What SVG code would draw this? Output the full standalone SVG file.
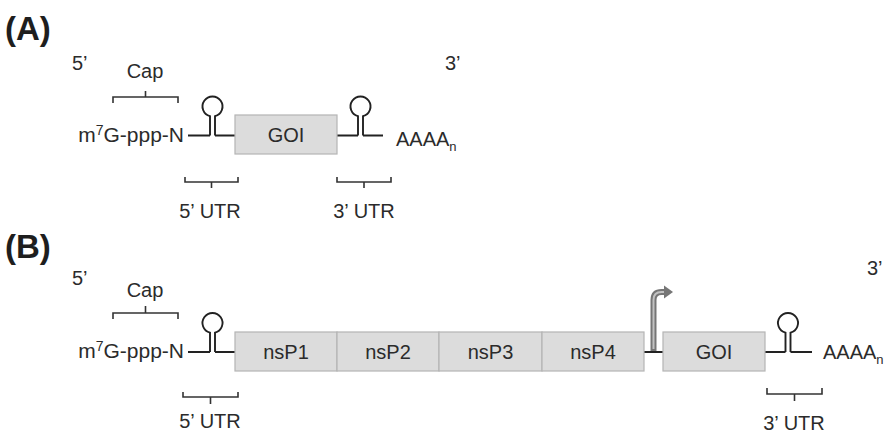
<svg xmlns="http://www.w3.org/2000/svg" xmlns:xlink="http://www.w3.org/1999/xlink" width="889" height="434" viewBox="0 0 889 434">
  <style>
    text { font-family: "Liberation Sans", Arial, sans-serif; font-size: 20px; fill: #2b2b2b; }
    .panel { font-size: 33px; font-weight: bold; fill: #1e1e1e; }
    .mid { text-anchor: middle; }
    .end { text-anchor: end; }
    .cap5 { font-size: 21px; }
    .sup { font-size: 14px; }
    .sub { font-size: 13px; }
    .rna { fill: none; stroke: #222; stroke-width: 1.9; }
    .brace { fill: none; stroke: #333; stroke-width: 1.6; }
    .box { fill: #dcdcdc; stroke: #b4b4b4; stroke-width: 1.2; }
  </style>
  <defs>
    <!-- stem-loop: left stem foot at (0,0), right stem foot at (5,0) -->
    <path id="hairpin" class="rna" d="M0 0 V-19.3 A10 10 0 1 1 5 -19.3 V0"/>
  </defs>

  <rect width="889" height="434" fill="#ffffff"/>

  <!-- ===== Panel A: conventional mRNA ===== -->
  <g id="panelA-labels">
    <text class="panel" x="5" y="40">(A)</text>
    <text x="72" y="70">5’</text>
    <text x="445" y="70">3’</text>
  </g>

  <g id="a-cap">
    <text class="mid" x="145" y="78">Cap</text>
    <path class="brace" d="M113 103 V97 H178 V103 M145.5 97 V91"/>
    <text class="end cap5" x="184" y="142">m<tspan class="sup" dy="-7">7</tspan><tspan dy="7">G-ppp-N</tspan></text>
  </g>

  <g id="a-connectors">
    <path class="rna" d="M188 135.5 H210 M215 135.5 H235 M337 135.5 H358 M363 135.5 H383"/>
  </g>

  <g id="a-utr5-loop"><use xlink:href="#hairpin" x="210" y="135.5"/></g>
  <g id="a-utr3-loop"><use xlink:href="#hairpin" x="358" y="135.5"/></g>

  <g id="a-goi">
    <rect class="box" x="235" y="115" width="102" height="39"/>
    <text class="mid" x="286" y="142">GOI</text>
  </g>

  <g id="a-polyA">
    <text x="396" y="146">AAAA<tspan class="sub" dy="5">n</tspan></text>
  </g>

  <g id="a-utr5">
    <path class="brace" d="M185 177 V182 H238 V177 M211.5 182 V188"/>
    <text class="mid" x="210" y="218">5’ UTR</text>
  </g>
  <g id="a-utr3">
    <path class="brace" d="M337 177 V182 H391 V177 M364 182 V188"/>
    <text class="mid" x="364" y="218">3’ UTR</text>
  </g>

  <!-- ===== Panel B: self-amplifying mRNA ===== -->
  <g id="panelB-labels">
    <text class="panel" x="5" y="258">(B)</text>
    <text x="72" y="285">5’</text>
    <text x="867" y="275">3’</text>
  </g>

  <g id="b-cap">
    <text class="mid" x="145" y="297">Cap</text>
    <path class="brace" d="M113 319 V313 H178 V319 M145.5 313 V306"/>
    <text class="end cap5" x="184" y="358">m<tspan class="sup" dy="-7">7</tspan><tspan dy="7">G-ppp-N</tspan></text>
  </g>

  <g id="b-connectors">
    <path class="rna" d="M188 352 H210 M215 352 H235 M644 352 H663 M765 352 H785.5 M790.5 352 H812"/>
  </g>

  <g id="b-utr5-loop"><use xlink:href="#hairpin" x="210" y="352"/></g>
  <g id="b-utr3-loop"><use xlink:href="#hairpin" x="785.5" y="352"/></g>

  <g id="b-nsP1">
    <rect class="box" x="235" y="332" width="102" height="39"/>
    <text class="mid" x="286" y="359">nsP1</text>
  </g>
  <g id="b-nsP2">
    <rect class="box" x="337" y="332" width="102" height="39"/>
    <text class="mid" x="388" y="359">nsP2</text>
  </g>
  <g id="b-nsP3">
    <rect class="box" x="439" y="332" width="103" height="39"/>
    <text class="mid" x="490.5" y="359">nsP3</text>
  </g>
  <g id="b-nsP4">
    <rect class="box" x="542" y="332" width="102" height="39"/>
    <text class="mid" x="593" y="359">nsP4</text>
  </g>

  <!-- subgenomic promoter: hollow grey bent arrow -->
  <g id="b-promoter">
    <path d="M653.5 351 V300 Q653.5 292 661.5 292 H665" fill="none" stroke="#767676" stroke-width="6"/>
    <path d="M653.5 349 V300 Q653.5 292 661.5 292 H666" fill="none" stroke="#c2c2c2" stroke-width="2"/>
    <polygon points="664,285.5 673,292 664,298.5" fill="#767676"/>
  </g>

  <g id="b-goi">
    <rect class="box" x="663" y="332" width="102" height="39"/>
    <text class="mid" x="714" y="359">GOI</text>
  </g>

  <g id="b-polyA">
    <text x="823" y="359">AAAA<tspan class="sub" dy="5">n</tspan></text>
  </g>

  <g id="b-utr5">
    <path class="brace" d="M183 392 V397 H238 V392 M210.5 397 V404"/>
    <text class="mid" x="210" y="428">5’ UTR</text>
  </g>
  <g id="b-utr3">
    <path class="brace" d="M767 388 V394 H822 V388 M794.5 394 V401"/>
    <text class="mid" x="794" y="430">3’ UTR</text>
  </g>
</svg>
